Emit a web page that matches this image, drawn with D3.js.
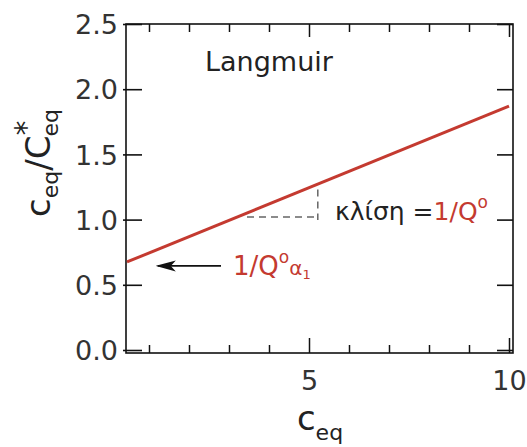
<!DOCTYPE html>
<html>
<head>
<meta charset="utf-8">
<title>Langmuir</title>
<style>
  body { margin: 0; background: #fff; }
  text { font-family: "DejaVu Sans", sans-serif; }
</style>
</head>
<body>
<svg id="chart" width="527" height="447"></svg>
<script src="https://d3js.org/d3.v7.min.js"></script>
<script>
// data
const lineX = [0.45, 10.0];
const lineY = [0.675, 1.87];
const slopeX = [3.45, 5.22];
const slopeY = [1.02, 1.23];
const yTicks = [0, 0.5, 1.0, 1.5, 2.0, 2.5];
const xMinor = [1, 2, 3, 4, 6, 7, 8, 9];
const xMajor = [5, 10];
const arrowX = [2.8, 1.22];
const arrowY = 0.645;

const red = "#c43a30";
const svg = d3.select("#chart");

const x = d3.scaleLinear().domain([0.425, 10.1]).range([126, 513]);
const y = d3.scaleLinear().domain([-0.023, 2.5]).range([353, 24]);

// frame
svg.append("rect")
    .attr("x", x.range()[0]).attr("y", y.range()[1])
    .attr("width", x.range()[1] - x.range()[0])
    .attr("height", y.range()[0] - y.range()[1])
    .attr("fill", "none").attr("stroke", "#111").attr("stroke-width", 1.6);

// y ticks left + labels
const gy = svg.append("g").attr("transform", `translate(${x.range()[0]},0)`)
    .call(d3.axisLeft(y).tickValues(yTicks).tickSize(-16).tickFormat(d3.format(".1f")).tickPadding(0));
gy.select(".domain").remove();
gy.selectAll(".tick line").attr("x1", -3).attr("stroke", "#111").attr("stroke-width", 1.6);
gy.selectAll(".tick text").attr("x", -8).attr("dy", "0.36em")
    .style("font-size", "27px").attr("fill", "#333")
    .style("font-family", "DejaVu Sans, sans-serif");

// y ticks right
const gyr = svg.append("g").attr("transform", `translate(${x.range()[1]},0)`)
    .call(d3.axisRight(y).tickValues(yTicks).tickSize(-16).tickFormat(""));
gyr.select(".domain").remove();
gyr.selectAll(".tick line").attr("stroke", "#111").attr("stroke-width", 1.6);

// x ticks, bottom and top
function xTicks(axisFn, pos, size) {
  const g = svg.append("g").attr("transform", `translate(0,${pos})`);
  g.call(axisFn(x).tickValues(xMinor).tickSize(-size).tickFormat(""));
  g.select(".domain").remove();
  g.selectAll(".tick line").attr("stroke", "#111").attr("stroke-width", 1.5);
  return g;
}
xTicks(d3.axisBottom, y.range()[0], 8);
xTicks(d3.axisTop, y.range()[1], 8);
const gxb = svg.append("g").attr("transform", `translate(0,${y.range()[0]})`)
    .call(d3.axisBottom(x).tickValues(xMajor).tickSize(-15).tickPadding(0));
gxb.select(".domain").remove();
gxb.selectAll(".tick line").attr("stroke", "#111").attr("stroke-width", 1.5);
gxb.selectAll(".tick text").attr("y", 37).attr("dy", 0)
    .style("font-size", "27px").attr("fill", "#333")
    .style("font-family", "DejaVu Sans, sans-serif");
const gxt = svg.append("g").attr("transform", `translate(0,${y.range()[1]})`)
    .call(d3.axisTop(x).tickValues(xMajor).tickSize(-13).tickFormat(""));
gxt.select(".domain").remove();
gxt.selectAll(".tick line").attr("stroke", "#111").attr("stroke-width", 1.5);

// slope triangle
svg.append("path")
    .attr("d", `M${x(slopeX[0])},${y(slopeY[0])}H${x(slopeX[1])}`)
    .attr("stroke", "#666").attr("stroke-width", 1.5).attr("stroke-dasharray", "7,5").attr("fill", "none");
svg.append("path")
    .attr("d", `M${x(slopeX[1])},${y(slopeY[1])}V${y(slopeY[0]) + 3}`)
    .attr("stroke", "#666").attr("stroke-width", 1.5).attr("stroke-dasharray", "7,5").attr("fill", "none");

// data line
svg.append("path")
    .datum(lineX.map((d, i) => [d, lineY[i]]))
    .attr("d", d3.line().x(d => x(d[0])).y(d => y(d[1])))
    .attr("stroke", red).attr("stroke-width", 3).attr("fill", "none");

// arrow
svg.append("defs").append("marker")
    .attr("id", "head").attr("viewBox", "0 0 20 12").attr("refX", 18).attr("refY", 6)
    .attr("markerWidth", 20).attr("markerHeight", 12).attr("markerUnits", "userSpaceOnUse")
    .attr("orient", "auto")
    .append("path").attr("d", "M20,6L0,0.5L5,6L0,11.5Z").attr("fill", "#111");
svg.append("line")
    .attr("x1", x(arrowX[0])).attr("x2", x(arrowX[1]))
    .attr("y1", y(arrowY)).attr("y2", y(arrowY))
    .attr("stroke", "#111").attr("stroke-width", 1.6)
    .attr("marker-end", "url(#head)");

// annotations
svg.append("text").attr("x", 205).attr("y", 71)
    .style("font-size", "27px").attr("fill", "#222").text("Langmuir");

const sl = svg.append("text").attr("x", 335).attr("y", 220)
    .style("font-size", "25px").attr("fill", "#222");
sl.append("tspan").text("κλίση =");
sl.append("tspan").attr("fill", red).text("1/Q");
sl.append("tspan").attr("fill", red).attr("dy", -12).style("font-size", "17px").text("o");

const ic = svg.append("text").attr("x", 233).attr("y", 275)
    .style("font-size", "26px").attr("fill", red);
ic.append("tspan").text("1/Q");
ic.append("tspan").attr("dy", -12).style("font-size", "17px").text("o");
ic.append("tspan").attr("dy", 12).style("font-size", "20px").text("α");
ic.append("tspan").attr("dy", 4).style("font-size", "13px").text("1");

// axis titles
const xt = svg.append("text").attr("x", 320).attr("y", 430)
    .attr("text-anchor", "middle").attr("fill", "#222").style("font-size", "34px");
xt.append("tspan").text("c");
xt.append("tspan").attr("dy", 10).style("font-size", "22px").text("eq");

const yt = svg.append("text")
    .attr("transform", "translate(50,163) rotate(-90)")
    .attr("text-anchor", "middle").attr("fill", "#222").style("font-size", "34px");
yt.append("tspan").text("c");
yt.append("tspan").attr("dy", 8).style("font-size", "22px").text("eq");
yt.append("tspan").attr("dy", -8).text("/C");
yt.append("tspan").attr("dy", -14).style("font-size", "30px").text("*");
yt.append("tspan").attr("dx", -16).attr("dy", 22).style("font-size", "22px").text("eq");
</script>
</body>
</html>
